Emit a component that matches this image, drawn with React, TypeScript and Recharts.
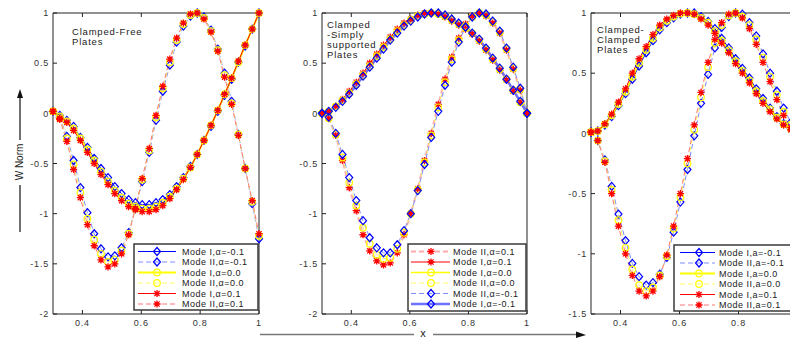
import React from "react";
import { LineChart, Line, XAxis, YAxis } from "recharts";

// sample positions along the plate
const xs = [0.3, 0.323, 0.347, 0.37, 0.393, 0.417, 0.44, 0.463, 0.487, 0.51, 0.533, 0.557, 0.58, 0.603, 0.627, 0.65, 0.673, 0.697, 0.72, 0.743, 0.767, 0.79, 0.813, 0.837, 0.86, 0.883, 0.907, 0.93, 0.953, 0.977, 1.0];

const xTicks = [0.4, 0.6, 0.8, 1];
const xTicksCut = [0.4, 0.6, 0.8]; // third panel is cropped before x = 1
const yTicksAB = [-2, -1.5, -1, -0.5, 0, 0.5, 1];
const yTicksC = [-1.5, -1, -0.5, 0, 0.5, 1];

// Clamped-Free
const cfModeINeg = [0.02, -0.02, -0.07, -0.13, -0.24, -0.34, -0.45, -0.55, -0.64, -0.73, -0.8, -0.86, -0.89, -0.91, -0.91, -0.89, -0.86, -0.81, -0.73, -0.64, -0.53, -0.41, -0.27, -0.13, 0.02, 0.18, 0.34, 0.51, 0.67, 0.84, 1.0];
const cfModeIZero = [0.02, -0.03, -0.08, -0.15, -0.25, -0.36, -0.47, -0.58, -0.68, -0.77, -0.84, -0.9, -0.93, -0.95, -0.95, -0.93, -0.89, -0.83, -0.75, -0.65, -0.54, -0.41, -0.27, -0.12, 0.03, 0.19, 0.35, 0.51, 0.68, 0.84, 1.0];
const cfModeIPos = [0.02, -0.05, -0.09, -0.17, -0.27, -0.39, -0.5, -0.61, -0.71, -0.8, -0.87, -0.93, -0.96, -0.98, -0.98, -0.96, -0.92, -0.85, -0.76, -0.66, -0.54, -0.41, -0.27, -0.12, 0.03, 0.19, 0.35, 0.52, 0.68, 0.84, 1.0];
const cfModeIINeg = [0.02, -0.04, -0.23, -0.47, -0.74, -0.99, -1.2, -1.35, -1.43, -1.42, -1.34, -1.19, -0.95, -0.68, -0.39, -0.07, 0.22, 0.48, 0.71, 0.87, 0.97, 1.0, 0.96, 0.83, 0.64, 0.4, 0.12, -0.21, -0.55, -0.9, -1.25];
const cfModeIIZero = [0.02, -0.05, -0.25, -0.51, -0.79, -1.05, -1.26, -1.4, -1.48, -1.46, -1.37, -1.2, -0.95, -0.66, -0.37, -0.04, 0.25, 0.51, 0.73, 0.89, 0.98, 1.0, 0.95, 0.82, 0.63, 0.38, 0.1, -0.21, -0.55, -0.88, -1.22];
const cfModeIIPos = [0.02, -0.06, -0.28, -0.56, -0.84, -1.11, -1.32, -1.46, -1.53, -1.5, -1.4, -1.21, -0.95, -0.65, -0.35, -0.02, 0.27, 0.54, 0.75, 0.9, 0.99, 1.0, 0.94, 0.81, 0.62, 0.36, 0.09, -0.22, -0.55, -0.87, -1.2];

// Clamped-Simply supported
const csModeINeg = [0, 0.02, 0.06, 0.12, 0.19, 0.28, 0.37, 0.46, 0.55, 0.64, 0.73, 0.8, 0.87, 0.92, 0.96, 0.99, 1.0, 1.0, 0.98, 0.94, 0.9, 0.86, 0.8, 0.74, 0.65, 0.55, 0.45, 0.34, 0.23, 0.12, 0];
const csModeIZero = [0, 0.02, 0.07, 0.13, 0.2, 0.29, 0.38, 0.47, 0.57, 0.66, 0.74, 0.82, 0.88, 0.93, 0.97, 0.99, 1.0, 0.99, 0.97, 0.93, 0.89, 0.85, 0.8, 0.73, 0.64, 0.54, 0.44, 0.34, 0.23, 0.11, 0];
const csModeIPos = [0, 0.02, 0.07, 0.14, 0.22, 0.31, 0.4, 0.5, 0.59, 0.68, 0.76, 0.84, 0.9, 0.94, 0.98, 1.0, 1.0, 0.99, 0.96, 0.92, 0.88, 0.84, 0.79, 0.72, 0.63, 0.53, 0.43, 0.33, 0.22, 0.11, 0];
const csModeIINeg = [0, -0.04, -0.2, -0.41, -0.64, -0.87, -1.07, -1.24, -1.34, -1.39, -1.39, -1.31, -1.17, -1.0, -0.77, -0.51, -0.24, 0.02, 0.28, 0.51, 0.71, 0.86, 0.96, 1.0, 0.99, 0.92, 0.82, 0.65, 0.46, 0.25, 0];
const csModeIIZero = [0, -0.05, -0.21, -0.44, -0.69, -0.92, -1.14, -1.3, -1.41, -1.45, -1.44, -1.35, -1.19, -1.0, -0.76, -0.49, -0.22, 0.06, 0.31, 0.54, 0.73, 0.87, 0.96, 1.0, 0.98, 0.91, 0.81, 0.64, 0.45, 0.24, 0];
const csModeIIPos = [0, -0.05, -0.22, -0.47, -0.74, -0.97, -1.21, -1.37, -1.47, -1.51, -1.49, -1.39, -1.21, -1.0, -0.75, -0.47, -0.2, 0.09, 0.34, 0.56, 0.75, 0.89, 0.97, 1.0, 0.97, 0.9, 0.8, 0.63, 0.44, 0.23, 0];

// Clamped-Clamped
const ccModeINeg = [0.01, 0.02, 0.07, 0.14, 0.23, 0.33, 0.45, 0.56, 0.67, 0.77, 0.86, 0.92, 0.96, 0.99, 1.0, 1.0, 0.97, 0.93, 0.87, 0.79, 0.71, 0.62, 0.54, 0.46, 0.37, 0.29, 0.21, 0.14, 0.08, 0.04, 0];
const ccModeIZero = [0.01, 0.02, 0.075, 0.15, 0.245, 0.345, 0.47, 0.585, 0.695, 0.79, 0.88, 0.935, 0.97, 0.995, 1.0, 0.99, 0.96, 0.92, 0.85, 0.77, 0.69, 0.6, 0.52, 0.44, 0.35, 0.27, 0.2, 0.13, 0.075, 0.04, 0];
const ccModeIPos = [0.01, 0.02, 0.08, 0.16, 0.26, 0.37, 0.5, 0.62, 0.72, 0.82, 0.9, 0.95, 0.98, 1.0, 1.0, 0.99, 0.95, 0.9, 0.83, 0.75, 0.67, 0.58, 0.5, 0.42, 0.33, 0.25, 0.18, 0.12, 0.07, 0.03, 0];
const ccModeIINeg = [0.01, -0.06, -0.22, -0.44, -0.67, -0.89, -1.08, -1.19, -1.26, -1.24, -1.17, -1.03, -0.82, -0.57, -0.3, -0.02, 0.25, 0.49, 0.71, 0.88, 0.97, 1.0, 0.99, 0.92, 0.81, 0.66, 0.5, 0.35, 0.21, 0.09, 0.01];
const ccModeIIZero = [0.01, -0.06, -0.23, -0.47, -0.72, -0.95, -1.13, -1.26, -1.31, -1.28, -1.18, -1.02, -0.79, -0.53, -0.25, 0.03, 0.3, 0.55, 0.75, 0.9, 0.98, 1.0, 0.97, 0.9, 0.78, 0.63, 0.47, 0.32, 0.18, 0.07, 0];
const ccModeIIPos = [0.01, -0.06, -0.24, -0.5, -0.77, -1.0, -1.18, -1.31, -1.35, -1.31, -1.19, -1.01, -0.77, -0.5, -0.21, 0.07, 0.34, 0.59, 0.78, 0.92, 0.99, 1.0, 0.96, 0.87, 0.74, 0.59, 0.43, 0.28, 0.15, 0.05, 0];

const cfData = xs.map((x, i) => ({ x, iNeg: cfModeINeg[i], iiNeg: cfModeIINeg[i], iZero: cfModeIZero[i], iiZero: cfModeIIZero[i], iPos: cfModeIPos[i], iiPos: cfModeIIPos[i] }));
const csData = xs.map((x, i) => ({ x, iNeg: csModeINeg[i], iiNeg: csModeIINeg[i], iZero: csModeIZero[i], iiZero: csModeIIZero[i], iPos: csModeIPos[i], iiPos: csModeIIPos[i] }));
const ccData = xs.map((x, i) => ({ x, iNeg: ccModeINeg[i], iiNeg: ccModeIINeg[i], iZero: ccModeIZero[i], iiZero: ccModeIIZero[i], iPos: ccModeIPos[i], iiPos: ccModeIIPos[i] }));

const BLUE = "#0000ff";
const YELLOW = "#ffff00";
const RED = "#ff0000";
const FONT = "'Liberation Sans', Arial, sans-serif";

type Kind = "diamond" | "circle" | "star";
type S = { key: string; name: string; kind: Kind; mc: string; lc: string; w: number; dash?: string };

const mk = (alpha: string): S[] => [
  { key: "iNeg", name: `Mode I,${alpha}=-0.1`, kind: "diamond", mc: BLUE, lc: BLUE, w: 1 },
  { key: "iiNeg", name: `Mode II,${alpha}=-0.1`, kind: "diamond", mc: BLUE, lc: "#7d8bff", w: 1, dash: "5 3" },
  { key: "iZero", name: `Mode I,${alpha}=0.0`, kind: "circle", mc: YELLOW, lc: YELLOW, w: 2 },
  { key: "iiZero", name: `Mode II,${alpha}=0.0`, kind: "circle", mc: YELLOW, lc: "#ffff66", w: 1, dash: "5 3" },
  { key: "iPos", name: `Mode I,${alpha}=0.1`, kind: "star", mc: RED, lc: RED, w: 1 },
  { key: "iiPos", name: `Mode II,${alpha}=0.1`, kind: "star", mc: RED, lc: "#ff7777", w: 1, dash: "5 3" },
];

const cfSeries = mk("α");
const ccSeries = mk("a");
const csSeries: S[] = [
  { key: "iiPos", name: "Mode II,α=0.1", kind: "star", mc: RED, lc: "#ffaaaa", w: 2, dash: "5 3" },
  { key: "iPos", name: "Mode I,α=0.1", kind: "star", mc: RED, lc: RED, w: 1 },
  { key: "iZero", name: "Mode I,α=0.0", kind: "circle", mc: YELLOW, lc: YELLOW, w: 1.5 },
  { key: "iiZero", name: "Mode II,α=0.0", kind: "circle", mc: YELLOW, lc: "#ffff66", w: 1, dash: "5 3" },
  { key: "iiNeg", name: "Mode II,α=-0.1", kind: "diamond", mc: BLUE, lc: "#7d8bff", w: 1, dash: "5 3" },
  { key: "iNeg", name: "Mode I,α=-0.1", kind: "diamond", mc: BLUE, lc: "#7070ff", w: 2.5 },
];

function Marker({ kind, cx, cy, color }: { kind: Kind; cx: number; cy: number; color: string }) {
  if (kind === "diamond")
    return <path d={`M${cx},${cy - 4}L${cx + 3.5},${cy}L${cx},${cy + 4}L${cx - 3.5},${cy}Z`} fill="none" stroke={color} strokeWidth={1.2} />;
  if (kind === "circle") return <circle cx={cx} cy={cy} r={3.3} fill="none" stroke={color} strokeWidth={1.2} />;
  const r = 3.6;
  const d = 2.6;
  return (
    <path
      d={`M${cx - r},${cy}H${cx + r}M${cx},${cy - r}V${cy + r}M${cx - d},${cy - d}L${cx + d},${cy + d}M${cx - d},${cy + d}L${cx + d},${cy - d}`}
      stroke={color}
      strokeWidth={1.3}
    />
  );
}

const tickStyle = { fontSize: 9, fill: "#333", fontFamily: FONT, letterSpacing: 0.8 };

function Panel(props: { left: number; data: any[]; series: S[]; yDomain: number[]; yTicks: number[]; xt: number[]; yw: number; mr: number }) {
  const { left, data, series, yDomain, yTicks, xt, yw, mr } = props;
  return (
    <div style={{ position: "absolute", left, top: 0 }}>
      <LineChart width={270} height={338} data={data} margin={{ top: 12, right: mr, bottom: 4, left: 0 }}>
        <XAxis xAxisId="b" dataKey="x" type="number" domain={[0.3, 1]} ticks={xt} interval={0} tickSize={-4} tickMargin={10} height={20} stroke="#222" tick={tickStyle} />
        <XAxis xAxisId="t" orientation="top" dataKey="x" type="number" domain={[0.3, 1]} ticks={xt} interval={0} tickSize={-4} height={1} stroke="#222" tickFormatter={() => ""} />
        <YAxis yAxisId="l" type="number" domain={yDomain} ticks={yTicks} interval={0} tickSize={-4} tickMargin={8} width={yw} stroke="#222" tick={tickStyle} />
        <YAxis yAxisId="r" orientation="right" type="number" domain={yDomain} ticks={yTicks} interval={0} tickSize={-4} width={1} stroke="#222" tickFormatter={() => ""} />
        {series.map((s) => (
          <Line
            key={s.key}
            xAxisId="b"
            yAxisId="l"
            type="linear"
            dataKey={s.key}
            stroke={s.lc}
            strokeWidth={s.w}
            strokeDasharray={s.dash}
            activeDot={false}
            isAnimationActive={false}
            dot={(p: any) => (
              <g key={`${s.key}-${p.index}`}>
                {p.cx != null && <Marker kind={s.kind} cx={p.cx} cy={p.cy} color={s.mc} />}
              </g>
            )}
          />
        ))}
      </LineChart>
    </div>
  );
}

function LegendBox(props: { x: number; y: number; w: number; h: number; series: S[]; l1: number; l2: number; mx: number; tx: number }) {
  const { x, y, w, h, series, l1, l2, mx, tx } = props;
  return (
    <g>
      <rect x={x} y={y} width={w} height={h} fill="#fff" stroke="#3a3a3a" strokeWidth={1.5} />
      {series.map((s, i) => {
        const ry = y + 7.5 + i * 10.5;
        return (
          <g key={s.key}>
            <line x1={l1} x2={l2} y1={ry} y2={ry} stroke={s.lc} strokeWidth={s.w} strokeDasharray={s.dash} />
            <Marker kind={s.kind} cx={mx} cy={ry} color={s.mc} />
            <text x={tx} y={ry + 3.2} fontSize={9} fontFamily={FONT} fill="#222" letterSpacing={0.5}>
              {s.name}
            </text>
          </g>
        );
      })}
    </g>
  );
}

function Title({ x, y, lines }: { x: number; y: number; lines: string[] }) {
  return (
    <text fontSize={9.5} fontFamily={FONT} fill="#222" letterSpacing={0.8}>
      {lines.map((t, i) => (
        <tspan key={i} x={x} y={y + i * 10}>
          {t}
        </tspan>
      ))}
    </text>
  );
}

export default function App() {
  return (
    <div style={{ position: "fixed", left: 0, top: 0, width: 790, height: 338, overflow: "hidden", background: "#fff" }}>
      <Panel left={0} data={cfData} series={cfSeries} yDomain={[-2, 1]} yTicks={yTicksAB} xt={xTicks} yw={53} mr={10} />
      <Panel left={270} data={csData} series={csSeries} yDomain={[-2, 1]} yTicks={yTicksAB} xt={xTicks} yw={52} mr={12} />
      <Panel left={540} data={ccData} series={ccSeries} yDomain={[-1.5, 1]} yTicks={yTicksC} xt={xTicksCut} yw={51} mr={11.5} />
      <svg width={790} height={338} style={{ position: "absolute", left: 0, top: 0, pointerEvents: "none" }}>
        <Title x={72} y={35} lines={["Clamped-Free", "Plates"]} />
        <Title x={327} y={28} lines={["Clamped", "-Simply", "supported", "Plates"]} />
        <Title x={597} y={33} lines={["Clamped-", "Clamped", "Plates"]} />

        <LegendBox x={134} y={244} w={124} h={66} series={cfSeries} l1={138} l2={176} mx={157} tx={182} />
        <LegendBox x={408} y={244} w={118} h={67} series={csSeries} l1={411} l2={450} mx={431} tx={453} />
        <LegendBox x={674} y={245} w={130} h={66} series={ccSeries} l1={680} l2={715} mx={699} tx={719} />

        {/* y label with arrow */}
        <line x1={20} y1={97} x2={20} y2={140} stroke="#111" strokeWidth={1.2} />
        <line x1={20} y1={185} x2={20} y2={232} stroke="#111" strokeWidth={1.2} />
        <path d="M20,89 L23,98 L17,98 Z" fill="#111" />
        <text transform="translate(23,162) rotate(-90)" textAnchor="middle" fontSize={10} fontFamily={FONT} fill="#222">
          W Norm
        </text>

        {/* x label with arrow */}
        <line x1={260} y1={334.5} x2={414} y2={334.5} stroke="#777" strokeWidth={1.5} />
        <line x1={433} y1={334.5} x2={577} y2={334.5} stroke="#777" strokeWidth={1.5} />
        <path d="M586,335 L576,331.5 L576,338 Z" fill="#111" />
        <text x={423} y={337} textAnchor="middle" fontSize={11} fontFamily={FONT} fill="#222">
          x
        </text>
      </svg>
    </div>
  );
}
